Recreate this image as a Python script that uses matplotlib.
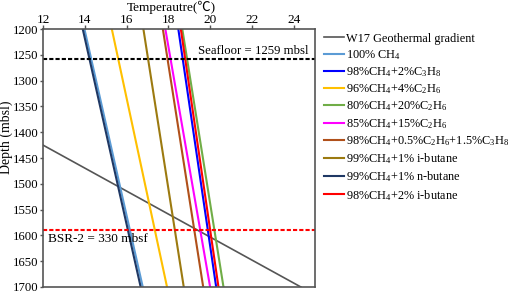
import matplotlib
matplotlib.use("Agg")
import matplotlib.pyplot as plt

plt.rcParams['font.family'] = ['Liberation Serif', 'DejaVu Sans']
plt.rcParams['mathtext.fontset'] = 'custom'
plt.rcParams['mathtext.rm'] = 'Liberation Serif'
plt.rcParams['mathtext.it'] = 'Liberation Serif:italic'

# depth range (mbsl) shared by the hydrate stability curves
depths = [1200, 1700]

# temperature (C) at 1200 m and 1700 m for each curve
labels = [
    '100% CH$_4$',
    '98%CH$_4$+2%C$_3$H$_8$',
    '96%CH$_4$+4%C$_2$H$_6$',
    '80%CH$_4$+20%C$_2$H$_6$',
    '85%CH$_4$+15%C$_2$H$_6$',
    '98%CH$_4$+0.5%C$_2$H$_6$+1.5%C$_3$H$_8$',
    '99%CH$_4$+1% i-butane',
    '99%CH$_4$+1% n-butane',
    '98%CH$_4$+2% i-butane',
]
temps_top = [13.98, 18.47, 15.29, 18.66, 17.85, 17.73, 16.80, 13.90, 18.59]
temps_bot = [16.77, 20.28, 17.93, 20.63, 19.99, 19.66, 18.73, 16.67, 20.39]
colors = ['#5b9bd5', '#0000ff', '#ffc000', '#70ad47', '#ff00ff',
          '#b0501a', '#9c7a10', '#1f3864', '#ff0000']

# geothermal gradient (temperature, depth)
geo_t = [12.0, 24.33]
geo_d = [1425, 1700]

seafloor = 1259
bsr = 1590

fig = plt.figure(figsize=(5.12, 2.93), dpi=100)
ax = fig.add_axes([0.084, 0.0205, 0.531, 0.8805])

ax.plot(geo_t, geo_d, color='#555555', lw=1.2, label='W17 Geothermal gradient')
for lab, t0, t1, c in zip(labels, temps_top, temps_bot, colors):
    ax.plot([t0, t1], depths, color=c, lw=1.5, label=lab)

ax.axhline(seafloor, color='black', ls=(0, (2, 1)), lw=1.5)
ax.axhline(bsr, color='#ff0000', ls=(0, (2, 1)), lw=1.5)
ax.text(24.7, seafloor - 4, 'Seafloor = 1259 mbsl', ha='right', va='bottom', fontsize=9.2)
ax.text(12.25, bsr + 5, 'BSR-2 = 330 mbsf', ha='left', va='top', fontsize=9.5)

ax.set_xlim(12, 25)
ax.set_ylim(1700, 1200)
ax.set_xticks(range(12, 25, 2))
ax.set_yticks(range(1200, 1701, 50))
ax.xaxis.tick_top()
ax.tick_params(labelsize=9.5, length=3, color='#555555', width=1, pad=1)
ax.tick_params(axis='x', pad=-1)
ax.tick_params(axis='y', labelsize=9.2, length=2.5)
for s in ax.spines.values():
    s.set_color('#555555')
    s.set_linewidth(1.2)

fig.text(0.335, 0.974, 'Temperautre(\u2103)', ha='center', va='center',
         fontsize=9.5, family=['Liberation Serif', 'Noto Sans CJK SC'])
ax.set_ylabel('Depth (mbsl)', fontsize=10)
ax.yaxis.label.set_va('center')
ax.yaxis.set_label_coords(-0.136, 0.58)

ax.legend(loc='upper left', bbox_to_anchor=(1.01, 1.01), frameon=False,
          fontsize=8.8, handlelength=1.7, handletextpad=0.1,
          labelspacing=0.28, borderaxespad=0.1)

fig.savefig('out.png', dpi=100)
